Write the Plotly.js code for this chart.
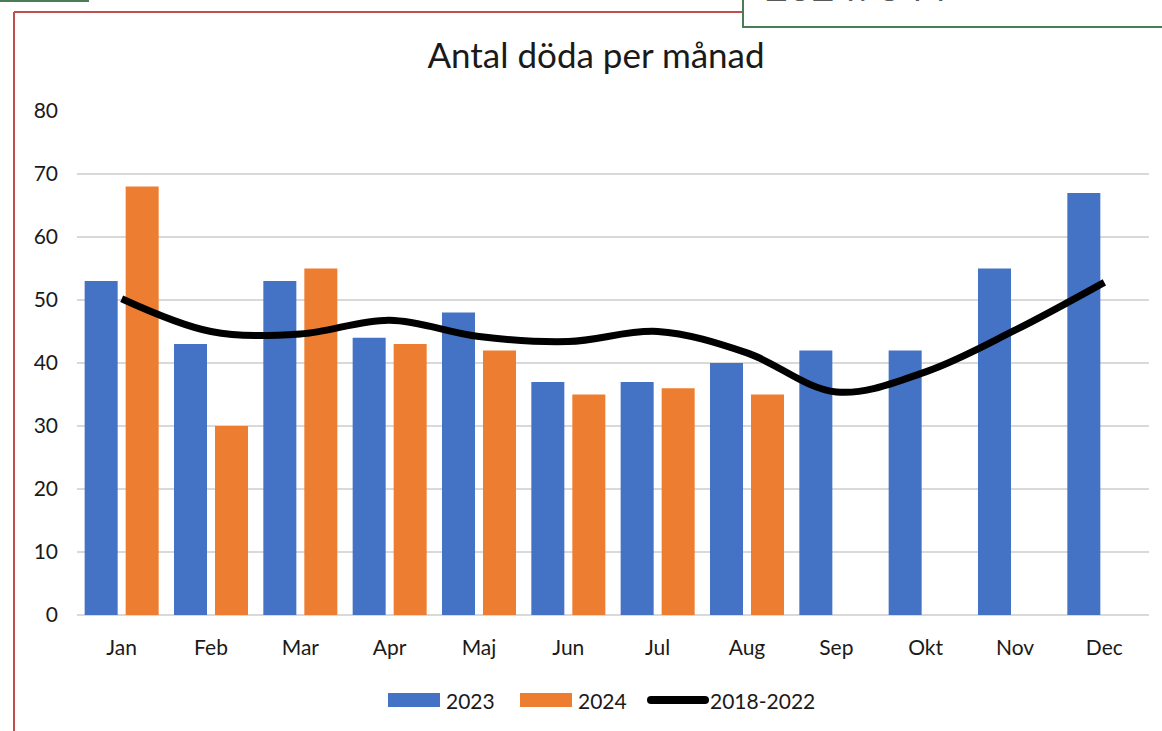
<!DOCTYPE html>
<html><head><meta charset="utf-8">
<script src="https://cdn.plot.ly/plotly-3.0.1.min.js"></script>
<style>html,body{margin:0;padding:0;background:#fff;}#chart{width:1162px;height:731px;}</style>
</head><body><div id="chart"></div>
<script>
const months = ["Jan","Feb","Mar","Apr","Maj","Jun","Jul","Aug","Sep","Okt","Nov","Dec"];
const deaths2023 = [53,43,53,44,48,37,37,40,42,42,55,67];
const deaths2024 = [68,30,55,43,42,35,36,35];
const avg2018_2022 = [50.2,45.0,44.6,46.8,44.2,43.4,45.0,41.6,35.4,38.6,45.2,52.8];
const seriesNames = ["2023","2024","2018-2022"];
const seriesColors = ["#4472c4","#ed7d31","#000000"];
const totalLabel = "2024: 344";

const W=1162,H=731,L=77,R=13,T=111,B=116;
const pw=W-L-R, ph=H-T-B;
const px=x=>(x-L)/pw, py=y=>(H-B-y)/ph;

const font = "Lato, 'Open Sans', sans-serif";
const traces = [
  {type:'bar', name:seriesNames[0], x:months, y:deaths2023, marker:{color:seriesColors[0]}},
  {type:'bar', name:seriesNames[1], x:months.slice(0,deaths2024.length), y:deaths2024, marker:{color:seriesColors[1]}},
  {type:'scatter', mode:'lines', name:seriesNames[2], x:months, y:avg2018_2022,
   line:{color:seriesColors[2], width:7, shape:'spline', smoothing:1}}
];

// legend drawn as shapes + text to match the wide swatches
const legendSwatches = [[388,440],[520,572],[648,708]];
const legendTextX = [446,578,710];
const legY = 700;
const shapes = [
  {type:'line', xref:'paper', yref:'paper', x0:px(14), x1:px(14), y0:py(12), y1:py(740), line:{color:'#c0504d', width:2}},
  {type:'line', xref:'paper', yref:'paper', x0:px(14), x1:px(745), y0:py(12), y1:py(12), line:{color:'#c0504d', width:2}},
  {type:'rect', xref:'paper', yref:'paper', x0:px(743), x1:px(1175), y0:py(27), y1:py(-40), line:{color:'#4a7c55', width:2}, fillcolor:'#fff'},
  {type:'rect', xref:'paper', yref:'paper', x0:px(-10), x1:px(88), y0:py(1), y1:py(-40), line:{color:'#4a7c55', width:2}, fillcolor:'#fff'}
];
const annotations = [
  {text:totalLabel, xref:'paper', yref:'paper', x:px(763), y:py(12), xanchor:'left', yanchor:'bottom', showarrow:false, font:{family:font, size:40, color:'#595959'}}
];
seriesNames.forEach((n,i)=>{
  const [a,b] = legendSwatches[i];
  if (i<2) {
    shapes.push({type:'rect', xref:'paper', yref:'paper', x0:px(a), x1:px(b), y0:py(legY-7), y1:py(legY+7), line:{width:0}, fillcolor:seriesColors[i]});
  } else {
    shapes.push({type:'line', xref:'paper', yref:'paper', x0:px(a+3), x1:px(b-3), y0:py(legY), y1:py(legY), line:{color:seriesColors[i], width:8}});
    shapes.push({type:'circle', xref:'paper', yref:'paper', x0:px(a-1), x1:px(a+7), y0:py(legY-4), y1:py(legY+4), line:{width:0}, fillcolor:seriesColors[i]});
    shapes.push({type:'circle', xref:'paper', yref:'paper', x0:px(b-7), x1:px(b+1), y0:py(legY-4), y1:py(legY+4), line:{width:0}, fillcolor:seriesColors[i]});
  }
  annotations.push({text:n, xref:'paper', yref:'paper', x:px(legendTextX[i]-2), y:py(legY), xanchor:'left', yanchor:'middle', showarrow:false, font:{family:font, size:21, color:'#1a1a1a'}});
});

const layout = {
  width:W, height:H, margin:{l:L,r:R,t:T,b:B},
  paper_bgcolor:'#fff', plot_bgcolor:'#fff',
  font:{family:font, color:'#1a1a1a', size:21},
  title:{text:'Antal döda per månad', font:{family:font, size:35, color:'#1a1a1a'}, x:px(596), xanchor:'center', xref:'paper', y:1-56/H, yanchor:'middle'},
  barmode:'group', bargap:0.082, bargroupgap:0.195,
  xaxis:{type:'category', showgrid:false, showline:false, ticks:'', tickfont:{size:21}, ticklabelstandoff:18},
  yaxis:{range:[0,80], dtick:10, gridcolor:'#d9d9d9', gridwidth:1.5, zeroline:true, zerolinecolor:'#d9d9d9', zerolinewidth:1.5, ticks:'', ticklabelstandoff:18, tickfont:{size:21}, fixedrange:true},
  showlegend:false,
  shapes:shapes,
  annotations:annotations
};
Plotly.newPlot('chart', traces, layout, {displayModeBar:false, staticPlot:true});
</script></body></html>
